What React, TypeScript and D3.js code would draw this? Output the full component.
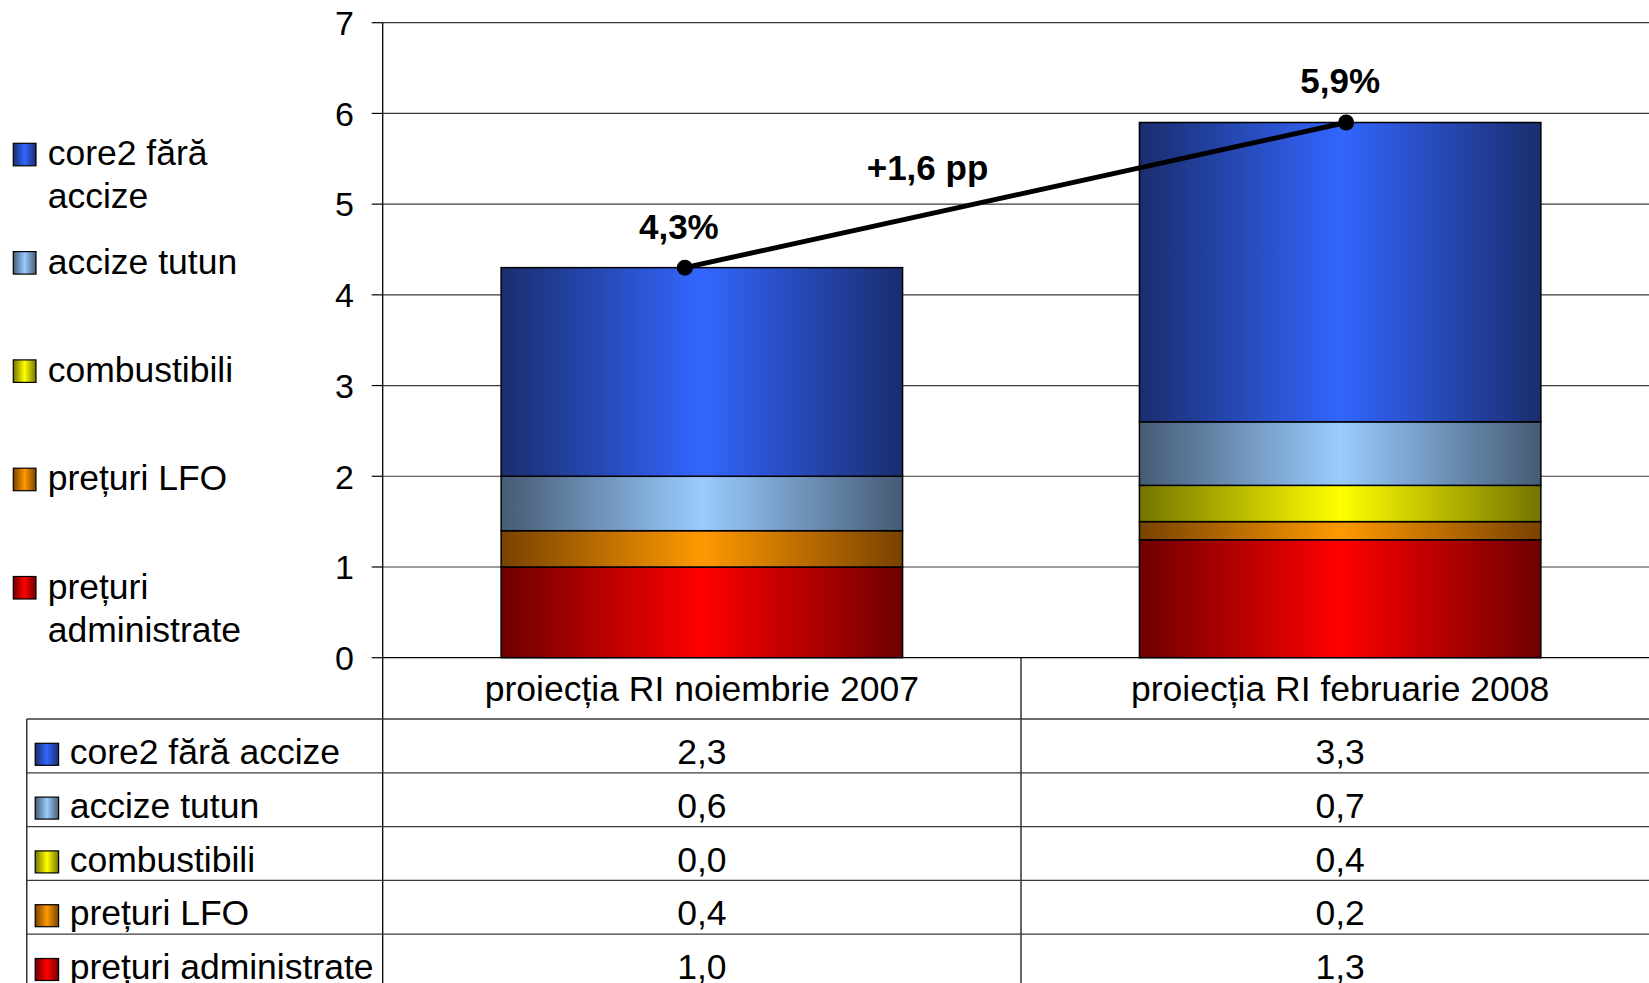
import React from "react";
import * as d3 from "d3";

// Projection scenarios (columns)
const categories = ["proiecția RI noiembrie 2007", "proiecția RI februarie 2008"];

// Contributions to CPI inflation, percentage points (stacked bottom → top)
const seriesNames = ["prețuri administrate", "prețuri LFO", "combustibili", "accize tutun", "core2 fără accize"];
const administrate = [1.0, 1.3];
const lfo = [0.4, 0.2];
const combustibili = [0.0, 0.4];
const tutun = [0.6, 0.7];
const core2 = [2.3, 3.3];

// Headline inflation and the change between projections
const totals = [4.3, 5.9];
const totalLabels = ["4,3%", "5,9%"];
const changeLabel = "+1,6 pp";

const yTicks = [0, 1, 2, 3, 4, 5, 6, 7];

// Legend wording (side legend wraps long names)
const legendLines = [
  ["core2 fără", "accize"],
  ["accize tutun"],
  ["combustibili"],
  ["prețuri LFO"],
  ["prețuri", "administrate"],
];

// Gradient colours per series: [edge, centre]
const seriesColors: Record<string, [string, string]> = {
  "prețuri administrate": ["#6e0000", "#ff0000"],
  "prețuri LFO": ["#784200", "#ff9900"],
  "combustibili": ["#747400", "#ffff00"],
  "accize tutun": ["#465b74", "#99ccff"],
  "core2 fără accize": ["#1a2d6e", "#3366ff"],
};

const W = 1649;
const H = 983;
const FONT = "'Liberation Sans', Arial, sans-serif";

export default function App() {
  const plotLeft = 382.7;
  const plotTop = 22.7;
  const plotBottom = 657.7;
  const colWidth = 638.3;
  const gapRatio = 0.59;

  const x = d3
    .scaleBand<string>()
    .domain(categories)
    .range([plotLeft, plotLeft + colWidth * categories.length])
    .padding(0);
  const y = d3.scaleLinear().domain([0, 7]).range([plotBottom, plotTop]);
  const barW = x.bandwidth() / (1 + gapRatio);

  const valuesBySeries: Record<string, number[]> = {
    "prețuri administrate": administrate,
    "prețuri LFO": lfo,
    "combustibili": combustibili,
    "accize tutun": tutun,
    "core2 fără accize": core2,
  };
  const rows = categories.map((c, i) => {
    const r: Record<string, any> = { cat: c };
    seriesNames.forEach((s) => (r[s] = valuesBySeries[s][i]));
    return r;
  });
  const stacked = d3.stack<any>().keys(seriesNames)(rows);

  const gradId = (s: string) => "g" + seriesNames.indexOf(s);

  // Overlay line for headline inflation
  const lineShift = [-17, 6];
  const pts: [number, number][] = categories.map((c, i) => [
    (x(c) as number) + x.bandwidth() / 2 + lineShift[i],
    y(totals[i]),
  ]);
  const linePath = d3.line()(pts) as string;
  const mid: [number, number] = [(pts[0][0] + pts[1][0]) / 2, (pts[0][1] + pts[1][1]) / 2];

  // Table geometry
  const tableLeft = 26.8;
  const headerBottom = 719;
  const rowH = 53.8;
  const tableOrder = [...seriesNames].reverse();
  const gridColor = "#3a3a3a";

  // Side legend
  const legendTop = 143.3;
  const legendStep = 108.3;

  const textSize = 35.5;

  return (
    <svg
      width={W}
      height={H}
      style={{ position: "absolute", left: 0, top: 0, background: "#fff" }}
      fontFamily={FONT}
    >
      <defs>
        {seriesNames.map((s) => (
          <linearGradient key={s} id={gradId(s)} x1="0" x2="1" y1="0" y2="0">
            <stop offset="0" stopColor={seriesColors[s][0]} />
            <stop offset="0.5" stopColor={seriesColors[s][1]} />
            <stop offset="1" stopColor={seriesColors[s][0]} />
          </linearGradient>
        ))}
      </defs>
      <rect x={0} y={0} width={W} height={H} fill="#fff" />

      {/* gridlines */}
      {yTicks.map((t) => (
        <g key={t}>
          <line x1={plotLeft} x2={W} y1={y(t)} y2={y(t)} stroke={t === 0 ? "#000" : gridColor} strokeWidth={1.2} />
          <line x1={plotLeft - 11} x2={plotLeft} y1={y(t)} y2={y(t)} stroke="#000" strokeWidth={1.2} />
          <text x={354} y={y(t)} dy="0.36em" textAnchor="end" fontSize={34} fill="#000">
            {t}
          </text>
        </g>
      ))}

      {/* stacked bars */}
      {stacked.map((layer) => (
        <g key={layer.key}>
          {layer.map((d, i) => {
            const h = y(d[0]) - y(d[1]);
            if (h <= 0) return null;
            const cx = (x(categories[i]) as number) + x.bandwidth() / 2;
            return (
              <rect
                key={i}
                x={cx - barW / 2}
                y={y(d[1])}
                width={barW}
                height={h}
                fill={`url(#${gradId(layer.key)})`}
                stroke="#000"
                strokeWidth={1.5}
              />
            );
          })}
        </g>
      ))}

      {/* axis line */}
      <line x1={plotLeft} x2={plotLeft} y1={plotTop} y2={H} stroke="#000" strokeWidth={1.3} />

      {/* headline inflation line */}
      <path d={linePath} fill="none" stroke="#000" strokeWidth={5} />
      {pts.map((p, i) => (
        <g key={i}>
          <circle cx={p[0]} cy={p[1]} r={8} fill="#000" />
          <text x={p[0] - 6} y={p[1] - 29} textAnchor="middle" fontSize={35} fontWeight="bold" fill="#000">
            {totalLabels[i]}
          </text>
        </g>
      ))}
      <text x={mid[0] - 88} y={mid[1] - 15} textAnchor="middle" fontSize={35} fontWeight="bold" fill="#000">
        {changeLabel}
      </text>

      {/* side legend */}
      {legendLines.map((lines, i) => {
        const s = seriesNames[seriesNames.length - 1 - i];
        const top = legendTop + i * legendStep;
        return (
          <g key={s}>
            <rect x={13.3} y={top} width={22.7} height={22.5} fill={`url(#${gradId(s)})`} stroke="#000" strokeWidth={1.2} />
            {lines.map((ln, j) => (
              <text key={j} x={47.7} y={top + 22 + j * 43} fontSize={textSize} fill="#000">
                {ln}
              </text>
            ))}
          </g>
        );
      })}

      {/* data table */}
      {categories.map((c, i) => {
        const x0 = x(c) as number;
        return (
          <g key={c}>
            {i > 0 && <line x1={x0} x2={x0} y1={plotBottom} y2={H} stroke="#000" strokeWidth={1.2} />}
            <text x={x0 + x.bandwidth() / 2} y={701} textAnchor="middle" fontSize={textSize} fill="#000">
              {c}
            </text>
          </g>
        );
      })}
      <line x1={tableLeft} x2={tableLeft} y1={headerBottom} y2={H} stroke="#000" strokeWidth={1.2} />
      {tableOrder.map((s, r) => {
        const top = headerBottom + r * rowH;
        return (
          <g key={s}>
            <line x1={tableLeft} x2={W} y1={top} y2={top} stroke={gridColor} strokeWidth={1.3} />
            <rect x={35.2} y={top + 24.3} width={23.4} height={22} fill={`url(#${gradId(s)})`} stroke="#000" strokeWidth={1.2} />
            <text x={69.7} y={top + 45} fontSize={textSize} fill="#000">
              {s}
            </text>
            {categories.map((c, i) => (
              <text
                key={c}
                x={(x(c) as number) + x.bandwidth() / 2}
                y={top + 45}
                textAnchor="middle"
                fontSize={textSize}
                fill="#000"
              >
                {d3.format(".1f")(valuesBySeries[s][i]).replace(".", ",")}
              </text>
            ))}
          </g>
        );
      })}
    </svg>
  );
}
